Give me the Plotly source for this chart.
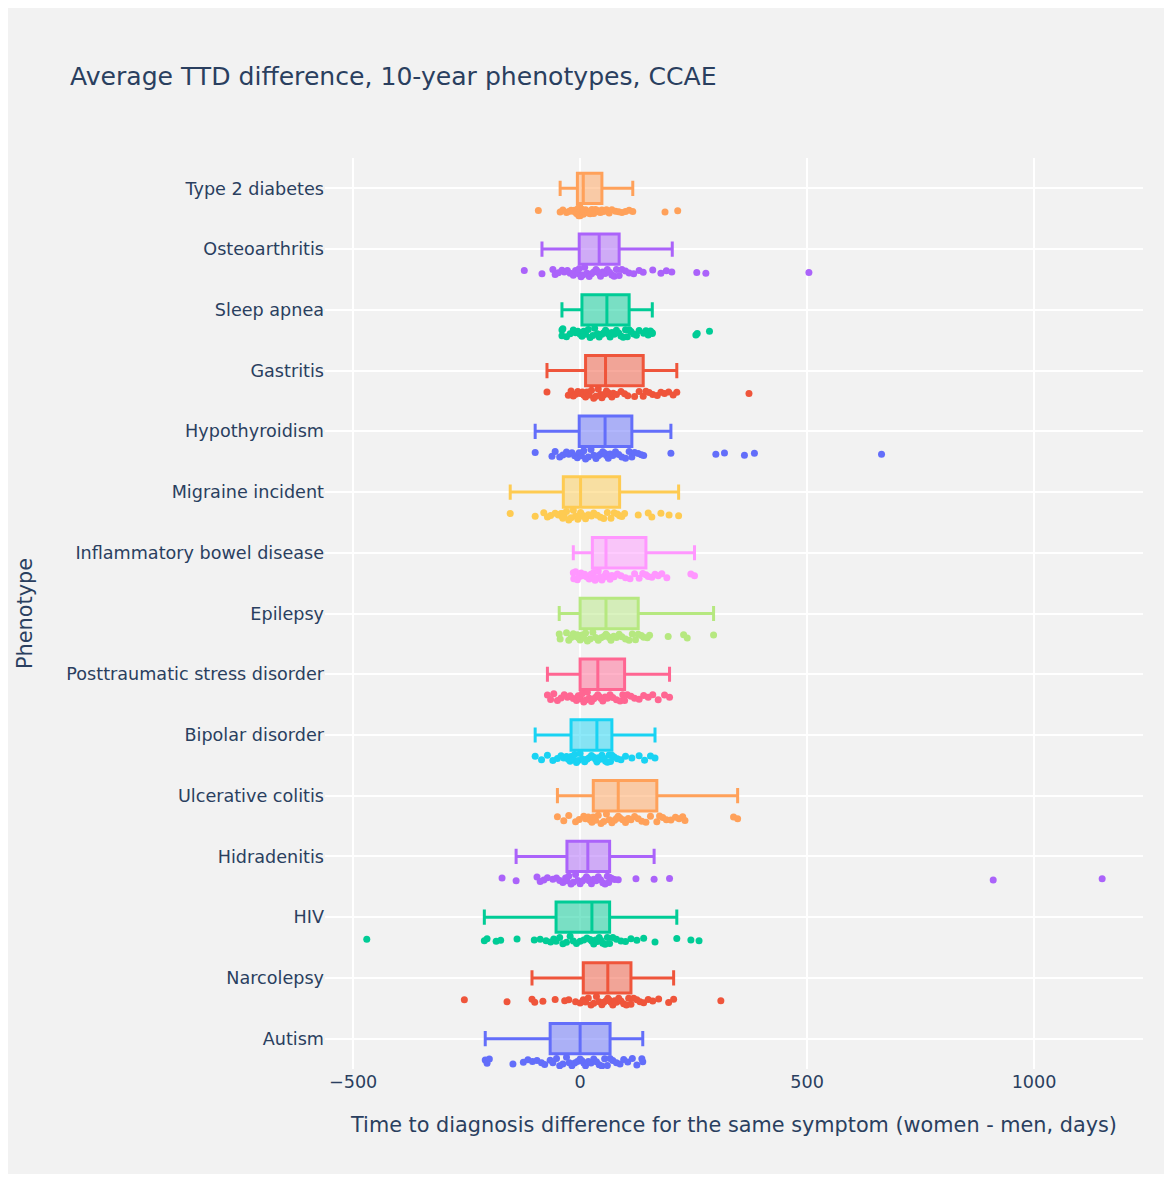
import plotly.graph_objects as go

# Categories (bottom to top in the chart)
phenotypes = [
    "Autism", "Narcolepsy", "HIV", "Hidradenitis", "Ulcerative colitis",
    "Bipolar disorder", "Posttraumatic stress disorder", "Epilepsy",
    "Inflammatory bowel disease", "Migraine incident", "Hypothyroidism",
    "Gastritis", "Sleep apnea", "Osteoarthritis", "Type 2 diabetes",
]

# Box statistics (days)
q1 = [-66, 7, -53, -29, 29, -20, 0, 0, 27, -37, -2, 12, 4, -2, -6]
median = [0, 61, 26, 17, 84, 37, 39, 57, 57, 1, 55, 56, 59, 42, 7]
q3 = [66, 112, 65, 65, 169, 70, 98, 128, 145, 87, 114, 139, 108, 86, 48]
lowerfence = [-209, -106, -211, -141, -50, -99, -72, -46, -15, -154, -99, -73, -40, -84, -44]
upperfence = [138, 206, 213, 163, 347, 165, 197, 294, 252, 217, 200, 213, 159, 203, 116]

# Individual symptom-level differences (days)
autism = [-209, -205, -200, -148, -125, -115, -105, -95, -85, -78, -66, -60, -52, -45,
          -38, -30, -24, -18, -12, -6, 0, 4, 8, 12, 18, 24, 30, 36, 42, 48, 54, 60,
          66, 72, 80, 88, 96, 105, 115, 125, 136, 138]
narcolepsy = [-255, -161, -106, -100, -82, -55, -34, -25, -10, 0, 7, 12, 18, 24, 30, 36,
              42, 48, 52, 57, 61, 64, 68, 72, 76, 80, 85, 90, 96, 102, 107, 112, 118,
              125, 132, 140, 150, 160, 173, 195, 206, 310]
hiv = [-470, -211, -205, -185, -175, -139, -101, -88, -75, -65, -58, -53, -45, -38, -30,
       -22, -15, -8, 0, 8, 15, 22, 26, 30, 34, 38, 42, 46, 50, 55, 60, 65, 72, 80, 90,
       100, 112, 125, 140, 165, 213, 244, 262]
hidradenitis = [-172, -141, -95, -88, -80, -72, -60, -52, -45, -38, -32, -29, -25, -20,
                -15, -10, -5, 0, 5, 10, 14, 17, 20, 25, 30, 35, 40, 45, 50, 55, 60, 63,
                65, 70, 76, 84, 123, 163, 197, 910, 1150]
ulcerative_colitis = [-50, -36, -25, -10, -2, 8, 12, 18, 22, 26, 29, 34, 40, 46, 52, 58,
                      64, 70, 76, 80, 84, 88, 94, 100, 106, 112, 120, 128, 136, 145, 155,
                      169, 175, 182, 190, 200, 210, 218, 226, 231, 338, 347]
bipolar = [-99, -85, -72, -60, -50, -42, -36, -30, -26, -22, -20, -16, -12, -8, -4, 0, 5,
           10, 15, 20, 25, 30, 34, 37, 40, 44, 48, 52, 56, 60, 64, 67, 70, 75, 82, 90,
           100, 114, 130, 142, 155, 165]
ptsd = [-72, -65, -58, -50, -42, -35, -28, -22, -15, -8, -4, 0, 4, 8, 12, 16, 20, 25, 30,
        35, 39, 42, 46, 50, 55, 60, 66, 72, 80, 88, 94, 98, 104, 112, 120, 130, 140, 150,
        160, 172, 186, 197]
epilepsy = [-46, -44, -30, -25, -20, -15, -10, -6, -3, 0, 4, 8, 12, 16, 22, 28, 34, 40,
            46, 52, 57, 60, 64, 68, 74, 80, 86, 92, 100, 108, 115, 122, 128, 135, 140,
            148, 153, 194, 228, 236, 294]
ibd = [-15, -14, -10, -6, -2, 2, 6, 10, 15, 20, 24, 27, 30, 33, 36, 40, 44, 48, 52, 55,
       57, 59, 62, 66, 70, 75, 82, 90, 100, 110, 120, 130, 138, 145, 150, 158, 165, 172,
       180, 191, 244, 252]
migraine = [-154, -99, -80, -72, -65, -55, -48, -42, -40, -38, -37, -35, -30, -25, -20,
            -15, -10, -5, -2, 0, 1, 3, 8, 12, 18, 25, 30, 38, 45, 52, 60, 68, 75, 82, 87,
            92, 98, 128, 150, 158, 178, 196, 217]
hypothyroidism = [-99, -62, -55, -45, -38, -30, -25, -18, -12, -6, -2, 3, 8, 12, 18, 24,
                  30, 35, 40, 45, 50, 55, 58, 62, 66, 72, 78, 85, 92, 100, 108, 114, 120,
                  128, 135, 140, 200, 299, 318, 362, 384, 664]
gastritis = [-73, -26, -20, -15, -10, -5, 0, 5, 8, 12, 15, 20, 25, 30, 35, 40, 45, 48, 52,
             56, 58, 62, 66, 70, 73, 80, 90, 98, 105, 120, 130, 139, 145, 152, 160, 170,
             178, 186, 195, 205, 213, 372]
sleep_apnea = [-40, -40, -38, -30, -22, -15, -10, -5, 0, 4, 8, 12, 18, 22, 28, 32, 38, 42,
               48, 52, 56, 59, 62, 66, 70, 75, 80, 85, 90, 95, 100, 104, 108, 112, 118,
               124, 130, 140, 145, 150, 155, 159, 159, 255, 258, 285]
osteoarthritis = [-123, -84, -60, -55, -48, -40, -35, -28, -22, -15, -10, -5, -2, 2, 6, 10,
                  15, 20, 25, 30, 35, 38, 42, 45, 50, 55, 60, 65, 70, 75, 80, 86, 92, 100,
                  108, 118, 130, 139, 160, 178, 190, 202, 257, 277, 504]
type2_diabetes = [-92, -44, -38, -30, -25, -20, -16, -12, -10, -8, -6, -5, -4, -3, -2, -1,
                  0, 0, 1, 2, 3, 4, 5, 7, 8, 10, 12, 15, 18, 22, 26, 30, 34, 38, 42, 45,
                  48, 52, 58, 64, 70, 78, 85, 92, 100, 108, 116, 187, 215]

samples = [autism, narcolepsy, hiv, hidradenitis, ulcerative_colitis, bipolar, ptsd,
           epilepsy, ibd, migraine, hypothyroidism, gastritis, sleep_apnea,
           osteoarthritis, type2_diabetes]

colors = ["#636EFA", "#EF553B", "#00CC96", "#AB63FA", "#FFA15A", "#19D3F3", "#FF6692",
          "#B6E880", "#FF97FF", "#FECB52"]

FONT = "Verdana, DejaVu Sans, sans-serif"

fig = go.Figure()
for i, name in enumerate(phenotypes):
    c = colors[i % len(colors)]
    fig.add_trace(go.Box(
        y=[name], x=[samples[i]],
        q1=[q1[i]], median=[median[i]], q3=[q3[i]],
        lowerfence=[lowerfence[i]], upperfence=[upperfence[i]],
        orientation="h", name=name,
        boxpoints="all", jitter=0.35, pointpos=-1.5, width=0.5,
        line=dict(color=c, width=3),
        marker=dict(color=c, size=7),
        showlegend=False,
    ))

fig.update_layout(
    width=1156, height=1166,
    margin=dict(l=317, r=21, t=150, b=105),
    paper_bgcolor="#f2f2f2", plot_bgcolor="#f2f2f2",
    font=dict(family=FONT, size=17.6, color="#2a3f5f"),
    title=dict(text="Average TTD difference, 10-year phenotypes, CCAE",
               font=dict(size=25.1), x=0.0536, xanchor="left",
               y=0.9417, yanchor="middle"),
    boxmode="overlay",
)
fig.update_xaxes(
    title=dict(text="Time to diagnosis difference for the same symptom (women - men, days)",
               font=dict(size=20.8), standoff=26),
    range=[-562, 1240], dtick=500, tick0=0,
    gridcolor="white", gridwidth=1.5,
    zeroline=True, zerolinecolor="white", zerolinewidth=2,
    showline=False, ticks="",
)
fig.update_yaxes(
    title=dict(text="Phenotype", font=dict(size=20.8), standoff=28),
    categoryorder="array", categoryarray=phenotypes,
    range=[-0.5, len(phenotypes) - 0.5],
    gridcolor="white", gridwidth=1.5, showline=False, ticks="",
)

fig.write_html("out.html")
